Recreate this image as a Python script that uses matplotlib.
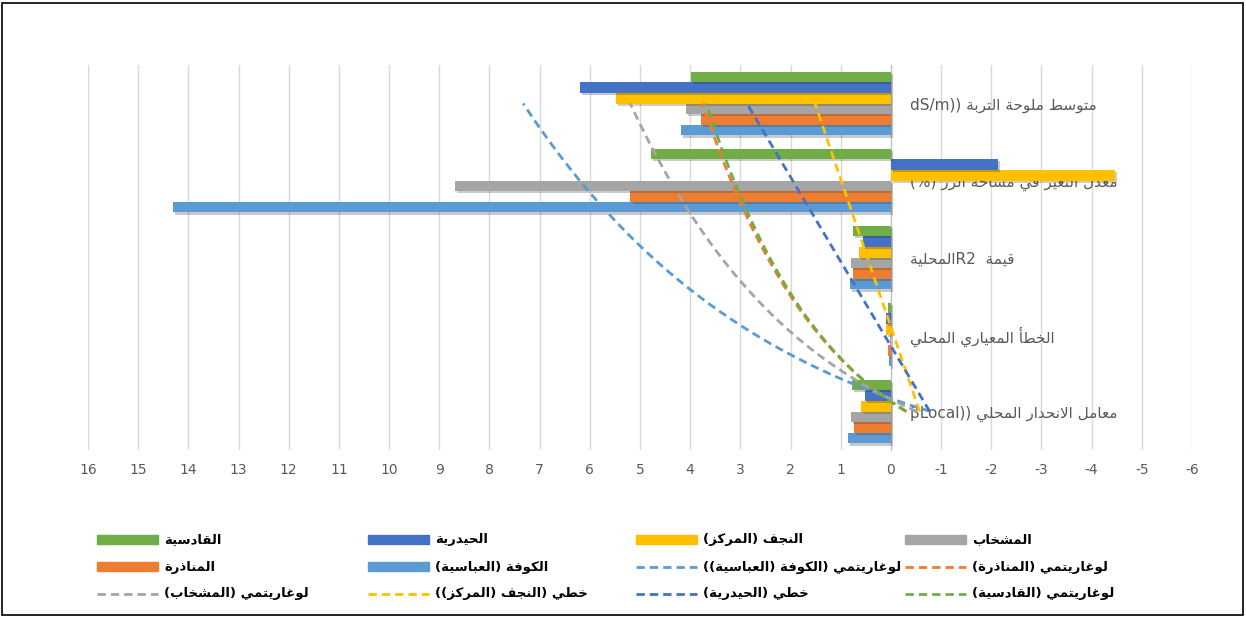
import matplotlib
matplotlib.use('Agg')

import numpy as np
import matplotlib.pyplot as plt
from matplotlib.patches import Rectangle
from matplotlib.lines import Line2D
import matplotlib.patheffects as pe

plt.rcParams['font.family'] = ['DejaVu Sans']
plt.rcParams['axes.unicode_minus'] = False

# === Data (Excel category order: bottom -> top) ===
categories = [
    "معامل الانحدار المحلي ((βLocal",
    "الخطأ المعياري المحلي",
    "قيمة  R2المحلية",
    "معدل التغير في مساحة الرز (%)",
    "متوسط ملوحة التربة ((dS/m",
]
kufa = [0.86, 0.03, 0.82, 14.3, 4.19]        # الكوفة (العباسية)
manadhira = [0.74, 0.05, 0.75, 5.19, 3.79]   # المناذرة
mishkhab = [0.80, 0.02, 0.80, 8.69, 4.09]    # المشخاب
najaf = [0.60, 0.09, 0.64, -4.46, 5.48]      # النجف (المركز)
haydariya = [0.52, 0.10, 0.56, -2.13, 6.19]  # الحيدرية
qadisiya = [0.78, 0.05, 0.75, 4.78, 3.98]    # القادسية

names = ["الكوفة (العباسية)", "المناذرة", "المشخاب", "النجف (المركز)", "الحيدرية", "القادسية"]
series = [kufa, manadhira, mishkhab, najaf, haydariya, qadisiya]
colors = ["#5B9BD5", "#ED7D31", "#A5A5A5", "#FFC000", "#4472C4", "#70AD47"]

# trendlines: (series index, kind, legend label)
trends = [
    (0, "log", "لوغاريتمي (الكوفة (العباسية))"),
    (1, "log", "لوغاريتمي (المناذرة)"),
    (2, "log", "لوغاريتمي (المشخاب)"),
    (3, "lin", "خطي (النجف (المركز))"),
    (4, "lin", "خطي (الحيدرية)"),
    (5, "log", "لوغاريتمي (القادسية)"),
]

# === Minimal Arabic shaping + visual ordering (matplotlib has no RTL layout) ===
FORMS = {
    'ا': (0xFE8D, 2), 'أ': (0xFE83, 2), 'ب': (0xFE8F, 4), 'ة': (0xFE93, 2), 'ت': (0xFE95, 4),
    'ج': (0xFE9D, 4), 'ح': (0xFEA1, 4), 'خ': (0xFEA5, 4), 'د': (0xFEA9, 2), 'ذ': (0xFEAB, 2),
    'ر': (0xFEAD, 2), 'ز': (0xFEAF, 2), 'س': (0xFEB1, 4), 'ش': (0xFEB5, 4), 'ص': (0xFEB9, 4),
    'ط': (0xFEC1, 4), 'ع': (0xFEC9, 4), 'غ': (0xFECD, 4), 'ف': (0xFED1, 4), 'ق': (0xFED5, 4),
    'ك': (0xFED9, 4), 'ل': (0xFEDD, 4), 'م': (0xFEE1, 4), 'ن': (0xFEE5, 4), 'ه': (0xFEE9, 4),
    'و': (0xFEED, 2), 'ي': (0xFEF1, 4), 'ى': (0xFEEF, 2),
}
LAM_ALEF = {'ا': 0xFEFB, 'أ': 0xFEF7}


def shape(text):
    chars = []
    i = 0
    while i < len(text):
        c = text[i]
        if c == 'ل' and i + 1 < len(text) and text[i + 1] in LAM_ALEF:
            chars.append(('LA', LAM_ALEF[text[i + 1]]))
            i += 2
        else:
            chars.append((c, None))
            i += 1
    out = []
    for k, (c, lig) in enumerate(chars):
        prev = chars[k - 1][0] if k > 0 else None
        nxt = chars[k + 1][0] if k + 1 < len(chars) else None
        joins_prev = prev in FORMS and FORMS[prev][1] == 4
        if c == 'LA':
            out.append(chr(lig + (1 if joins_prev else 0)))
            continue
        if c not in FORMS:
            out.append(c)
            continue
        base, n = FORMS[c]
        joins_next = n == 4 and (nxt in FORMS or nxt == 'LA')
        if joins_prev and joins_next:
            f = 3
        elif joins_prev:
            f = 1
        elif joins_next:
            f = 2
        else:
            f = 0
        out.append(chr(base + f))
    return out


def is_ltr(c):
    return (c.isascii() and c.isalnum()) or c in '/.%β'


def ar(text):
    rev = shape(text)[::-1]
    res, run = [], []
    for c in rev:
        if is_ltr(c):
            run.append(c)
            continue
        if run:
            res.extend(run[::-1])
            run = []
        res.append({'(': ')', ')': '('}.get(c, c))
    res.extend(run[::-1])
    return ''.join(res)


# === Figure ===
W, H = 1246, 617
fig = plt.figure(figsize=(W / 100, H / 100), dpi=100)
ax = fig.add_axes([88 / W, 1 - 450 / H, (1192 - 88) / W, (450 - 65) / H])

ypos = np.arange(1, len(categories) + 1)
group = 0.83
h = group / len(series)
for j, (vals, col) in enumerate(zip(series, colors)):
    offs = -group / 2 + h * (j + 0.5)
    ax.barh(ypos + offs, vals, height=h, color=col, zorder=3,
            path_effects=[pe.SimplePatchShadow(offset=(1.5, -1.5), alpha=0.25), pe.Normal()])

# trendlines (fitted on category index like Excel)
xs = np.linspace(1, 5, 200)
for idx, kind, _ in trends:
    y = np.array(series[idx])
    if kind == "log":
        a, b = np.polyfit(np.log(ypos), y, 1)
        fit = a * np.log(xs) + b
    else:
        a, b = np.polyfit(ypos, y, 1)
        fit = a * xs + b
    ax.plot(fit, xs, color=colors[idx], lw=2, linestyle=(0, (3, 1.8)), zorder=4)

ax.set_xlim(16, -6)
ax.set_ylim(0.5, len(categories) + 0.5)
ax.set_xticks(range(16, -7, -1))
ax.set_xticklabels([str(v) for v in range(16, -7, -1)])
ax.tick_params(axis='x', length=0, pad=9, labelcolor='#595959', labelsize=10)
ax.grid(True, axis='x', color='#d9d9d9', lw=1, zorder=0)

# category axis at x=0 with labels to its right
for s in ['top', 'bottom', 'left']:
    ax.spines[s].set_visible(False)
ax.spines['right'].set_position(('data', 0))
ax.spines['right'].set_color('#bfbfbf')
ax.spines['right'].set_zorder(2)
ax.yaxis.tick_right()
ax.set_yticks(ypos)
ax.set_yticklabels([ar(c) for c in categories])
ax.tick_params(axis='y', length=0, pad=14, labelcolor='#595959', labelsize=11)

# === Legend (drawn manually, Excel-like grid) ===
col_x = [97, 368, 636, 905]
row_y = [540, 567, 594]
legend_items = [
    ("bar", 5, names[5]), ("bar", 4, names[4]), ("bar", 3, names[3]), ("bar", 2, names[2]),
    ("bar", 1, names[1]), ("bar", 0, names[0]), ("line", 0, trends[0][2]), ("line", 1, trends[1][2]),
    ("line", 2, trends[2][2]), ("line", 3, trends[3][2]), ("line", 4, trends[4][2]), ("line", 5, trends[5][2]),
]
kw = 61
for n, (kind, idx, label) in enumerate(legend_items):
    px = col_x[n % 4]
    py = row_y[n // 4]
    if kind == "bar":
        fig.add_artist(Rectangle((px / W, 1 - (py + 4) / H), kw / W, 9 / H,
                                 transform=fig.transFigure, color=colors[idx]))
    else:
        fig.add_artist(Line2D([px / W, (px + kw) / W], [1 - py / H, 1 - py / H],
                              transform=fig.transFigure, color=colors[idx], lw=2,
                              linestyle=(0, (3, 1.8))))
    fig.text((px + kw + 6) / W, 1 - py / H, ar(label), ha='left', va='center',
             fontsize=9.5, fontweight='bold', color='black')

# outer frame
fig.add_artist(Rectangle((2 / W, 2 / H), (W - 5) / W, (H - 5) / H, transform=fig.transFigure,
                         fill=False, edgecolor='black', lw=1.2))

plt.savefig("out.png", dpi=100)
